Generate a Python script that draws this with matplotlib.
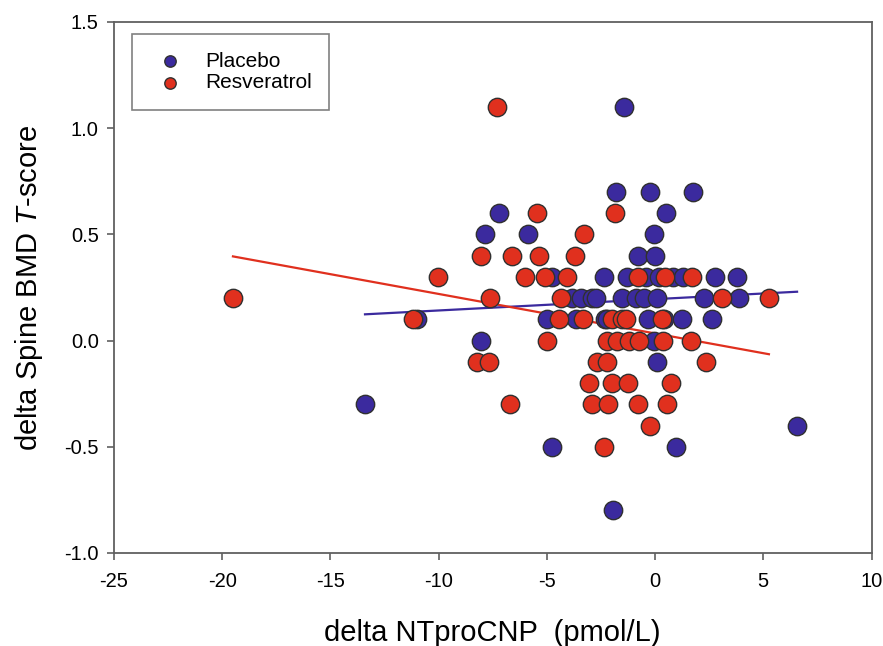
import numpy as np
import matplotlib.pyplot as plt

plt.rcParams['font.family'] = ['Liberation Sans', 'DejaVu Sans']
plt.rcParams['mathtext.fontset'] = 'custom'
plt.rcParams['mathtext.rm'] = 'Liberation Sans'
plt.rcParams['mathtext.it'] = 'Liberation Sans:italic'
plt.rcParams['axes.unicode_minus'] = False

# Placebo group (x = delta NTproCNP, y = delta spine BMD T-score)
placebo_x = [-13.4, -11.0, -8.05, -7.86, -7.2, -5.86, -4.98, -4.74, -4.74, -3.86,
             -3.44, -3.67, -2.9, -2.74, -2.37, -2.33, -2.2, -1.95, -1.81, -1.53,
             -1.44, -1.3, -0.88, -0.8, -0.51, -0.42, -0.33, -0.23, -0.05, 0.0,
             -0.05, 0.09, 0.19, 0.09, 0.43, 0.5, 0.84, 0.98, 1.24, 1.3,
             1.77, 2.28, 2.64, 2.79, 3.77, 3.86, 6.56]
placebo_y = [-0.3, 0.1, 0.0, 0.5, 0.6, 0.5, 0.1, 0.3, -0.5, 0.2,
             0.2, 0.1, 0.2, 0.2, 0.3, 0.1, 0.1, -0.8, 0.7, 0.2,
             1.1, 0.3, 0.2, 0.4, 0.2, 0.3, 0.1, 0.7, 0.5, 0.4,
             0.0, 0.2, 0.3, -0.1, 0.1, 0.6, 0.3, -0.5, 0.1, 0.3,
             0.7, 0.2, 0.1, 0.3, 0.3, 0.2, -0.4]

# Resveratrol group
resv_x = [-19.5, -11.2, -10.05, -8.23, -8.05, -7.67, -7.63, -7.3, -6.7, -6.6,
          -6.0, -5.44, -5.35, -5.07, -4.98, -4.42, -4.33, -4.05, -3.72, -3.3,
          -3.35, -3.07, -2.93, -2.7, -2.37, -2.23, -2.23, -2.19, -2.0, -2.0,
          -1.86, -1.77, -1.53, -1.35, -1.26, -1.21, -0.79, -0.79, -0.74, -0.23,
          0.33, 0.37, 0.47, 0.56, 0.74, 1.67, 1.72, 2.37, 3.1, 5.26]
resv_y = [0.2, 0.1, 0.3, -0.1, 0.4, -0.1, 0.2, 1.1, -0.3, 0.4,
          0.3, 0.6, 0.4, 0.3, 0.0, 0.1, 0.2, 0.3, 0.4, 0.5,
          0.1, -0.2, -0.3, -0.1, -0.5, 0.0, -0.1, -0.3, 0.1, -0.2,
          0.6, 0.0, 0.1, 0.1, -0.2, 0.0, 0.3, -0.3, 0.0, -0.4,
          0.1, 0.0, 0.3, -0.3, -0.2, 0.0, 0.3, -0.1, 0.2, 0.2]

# Regression lines (intercept, slope) as shown in the figure
placebo_fit = (0.195, 0.00533)
resv_fit = (0.0336, -0.0186)

blue = '#3b2a9e'
red = '#e0301e'

fig = plt.figure(figsize=(8.83, 6.46), dpi=100)
ax = fig.add_axes([0.129, 0.144, 0.858, 0.822])

ax.scatter(placebo_x, placebo_y, s=175, color=blue, edgecolor='#303030',
           linewidth=1.0, zorder=3, label='Placebo')
ax.scatter(resv_x, resv_y, s=175, color=red, edgecolor='#303030',
           linewidth=1.0, zorder=3, label='Resveratrol')

for xs, fit, c in [(placebo_x, placebo_fit, blue), (resv_x, resv_fit, red)]:
    lx = np.array([min(xs), max(xs)])
    ax.plot(lx, fit[0] + fit[1] * lx, color=c, linewidth=1.6, zorder=2)

ax.set_xlim(-25, 10)
ax.set_ylim(-1.0, 1.5)
ax.set_xticks(np.arange(-25, 11, 5))
ax.set_yticks(np.arange(-1.0, 1.51, 0.5))
ax.set_yticklabels(['%.1f' % v for v in np.arange(-1.0, 1.51, 0.5)])

for sp in ax.spines.values():
    sp.set_color('#606060')
    sp.set_linewidth(1.3)
ax.tick_params(direction='out', length=5, width=1.2, color='#606060',
               labelsize=14.5, top=False, right=False)
ax.tick_params(axis='x', pad=9)
ax.tick_params(axis='y', pad=6)

ax.set_xlabel('delta NTproCNP  (pmol/L)', fontsize=21, labelpad=20)
ax.set_ylabel(r'delta Spine BMD $\mathit{T}$-score', fontsize=21, labelpad=14)

leg = ax.legend(loc='upper left', bbox_to_anchor=(0.024, 0.977), fontsize=15,
                frameon=True, fancybox=False, edgecolor='#606060',
                markerscale=0.62, handletextpad=0.75, borderpad=0.85,
                labelspacing=0.1, borderaxespad=0, handlelength=1.9)
leg.get_frame().set_linewidth(1.2)

fig.savefig('out.png', dpi=100)
